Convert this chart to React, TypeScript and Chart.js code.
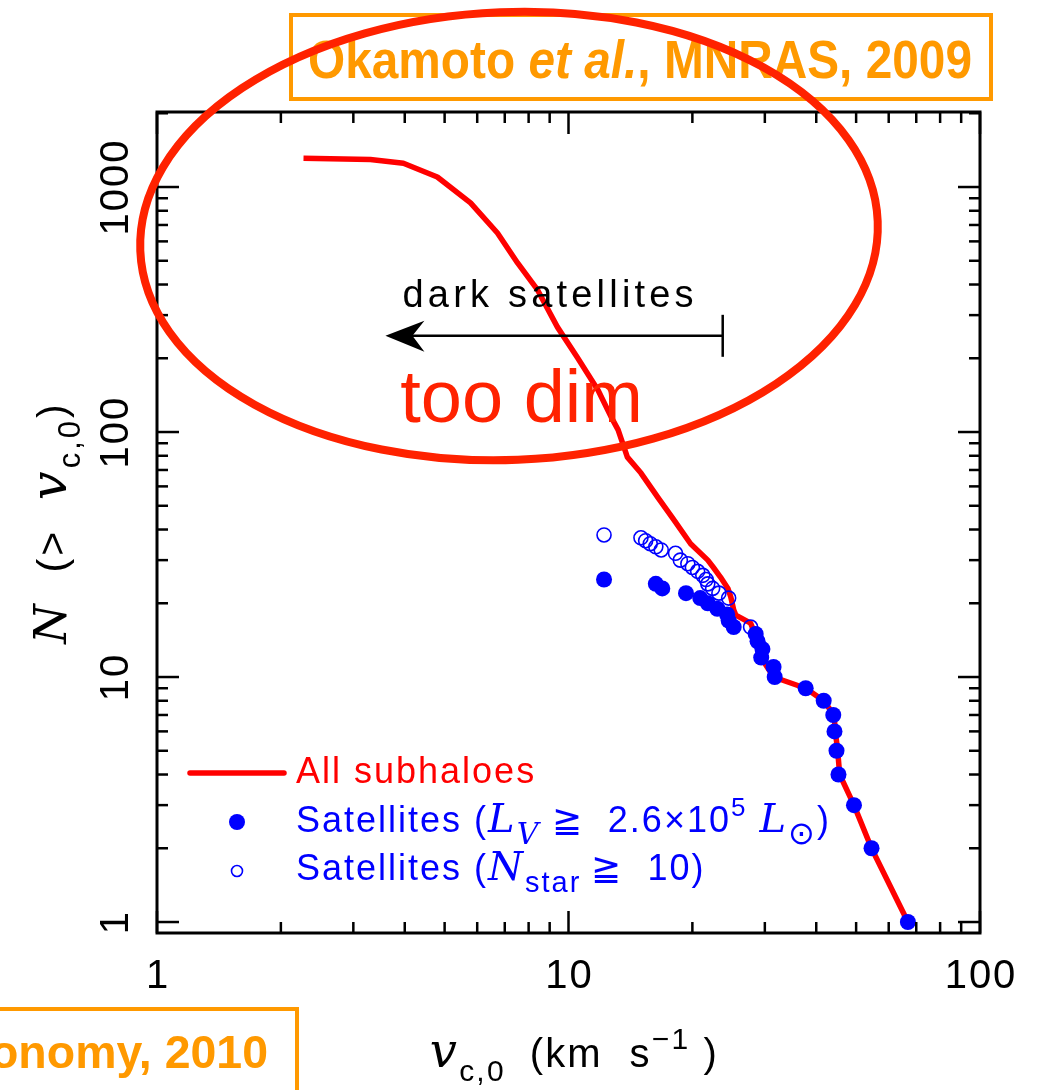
import React, { useEffect, useRef } from "react";
import { Chart, registerables } from "chart.js";
Chart.register(...registerables);

// ---- data ----
const subhaloVc = [2.27, 3.3, 3.97, 4.8, 5.78, 6.72, 7.52, 8.41, 9.4, 10.5, 11.8, 12.7, 13.2, 13.6, 13.9, 15.0, 16.5, 18.0, 19.8, 21.8, 22.5, 23.4, 24.4, 24.8, 25.2, 25.5, 27.7, 28.8, 29.3, 31.5, 37.7, 41.7, 44.2, 44.5, 45.1, 45.6, 49.4, 54.5, 66.8];
const subhaloN = [1310, 1295, 1250, 1099, 861, 649, 490, 380, 268, 202, 148, 115, 102, 88, 79, 68, 54, 44, 35, 30, 28, 25.6, 23, 21.2, 18.8, 17.9, 16.6, 14.2, 12.1, 10, 9, 8, 7, 6, 5, 4, 3, 2, 1];

const brightVc = [12.2, 16.3, 16.9, 19.3, 20.9, 21.8, 23.0, 24.3, 24.5, 25.2, 28.5, 28.8, 29.6, 29.4, 31.5, 31.7, 37.7, 41.7, 44.0, 44.3, 44.8, 45.3, 49.4, 54.5, 66.8];
const brightN = [25, 24, 23, 22, 21, 20, 19, 18, 17, 16, 15, 14, 13, 12, 11, 10, 9, 8, 7, 6, 5, 4, 3, 2, 1];

const starVc = [12.2, 15.0, 15.4, 15.8, 16.3, 16.8, 18.2, 18.7, 19.5, 20.0, 20.6, 21.2, 21.6, 21.8, 22.4, 23.2, 24.5, 27.7];
const starN = [38, 37, 36, 35, 34, 33, 32, 30, 29, 28, 27, 26, 25, 24, 23, 22, 21, 16];

const xMajorTicks = [1, 10, 100];
const xMinorTicks = [2, 3, 4, 5, 6, 7, 8, 9, 20, 30, 40, 50, 60, 70, 80, 90];
const yMajorTicks = [1, 10, 100, 1000];
const yMinorTicks = [2, 3, 4, 5, 6, 7, 8, 9, 20, 30, 40, 50, 60, 70, 80, 90, 200, 300, 400, 500, 600, 700, 800, 900, 2000];

// annotation anchors in data units
const darkArrowFrom = 23.7;
const darkArrowTo = 3.59;
const darkArrowN = 247;
const darkTextVc = 3.95;
const darkTextN = 324;
const tooDimVc = 3.9;
const tooDimN = 110;

const SANS = '"Liberation Sans", Arial, sans-serif';
const SERIF = '"DejaVu Serif", serif';

type Seg = { t: string; k?: "it" | "sub" | "sup" | "subit"; s?: number; sp?: number };

function segFont(s: Seg, size: number) {
  const m = s.s ?? 1;
  if (s.k === "it") return `italic ${Math.round(size * m)}px ${SERIF}`;
  if (s.k === "subit") return `italic ${Math.round(size * 0.72 * m)}px ${SERIF}`;
  if (s.k === "sub" || s.k === "sup") return `${Math.round(size * 0.72 * m)}px ${SANS}`;
  return `${Math.round(size * m)}px ${SANS}`;
}
function segDy(k: string | undefined, size: number) {
  if (k === "sub" || k === "subit") return size * 0.34;
  if (k === "sup") return -size * 0.45;
  return 0;
}
function drawRich(ctx: any, segs: Seg[], x: number, y: number, size: number, align: string, spacing: number) {
  const widths = segs.map((s) => {
    ctx.font = segFont(s, size);
    ctx.letterSpacing = (s.sp ?? spacing) + "px";
    return ctx.measureText(s.t).width;
  });
  const total = widths.reduce((a, b) => a + b, 0);
  let cx = align === "center" ? x - total / 2 : align === "right" ? x - total : x;
  ctx.textAlign = "left";
  ctx.textBaseline = "alphabetic";
  segs.forEach((s, i) => {
    ctx.font = segFont(s, size);
    ctx.letterSpacing = (s.sp ?? spacing) + "px";
    ctx.fillText(s.t, cx, y + segDy(s.k, size));
    cx += widths[i];
  });
  ctx.letterSpacing = "0px";
}

function drawBoldCite(ctx: any, parts: { t: string; it?: boolean }[], x: number, y: number, size: number, sx: number, align: string) {
  const widths = parts.map((p) => {
    ctx.font = `${p.it ? "italic " : ""}bold ${size}px ${SANS}`;
    return ctx.measureText(p.t).width;
  });
  const total = widths.reduce((a, b) => a + b, 0) * sx;
  const start = align === "right" ? x - total : x;
  ctx.save();
  ctx.translate(start, y);
  ctx.scale(sx, 1);
  let cx = 0;
  ctx.textAlign = "left";
  ctx.textBaseline = "alphabetic";
  parts.forEach((p, i) => {
    ctx.font = `${p.it ? "italic " : ""}bold ${size}px ${SANS}`;
    ctx.fillText(p.t, cx, 0);
    cx += widths[i];
  });
  ctx.restore();
}

const overlay = {
  id: "overlay",
  afterDraw(chart: any) {
    const { ctx, chartArea: a } = chart;
    const xs = chart.scales.x;
    const ys = chart.scales.y;
    ctx.save();
    ctx.strokeStyle = "#000";
    ctx.fillStyle = "#000";
    ctx.lineCap = "butt";
    const line = (x1: number, y1: number, x2: number, y2: number) => {
      ctx.beginPath();
      ctx.moveTo(x1, y1);
      ctx.lineTo(x2, y2);
      ctx.stroke();
    };
    // frame
    ctx.lineWidth = 3;
    ctx.strokeRect(a.left, a.top, a.right - a.left, a.bottom - a.top);
    // ticks
    ctx.lineWidth = 2.5;
    const xt = (v: number, len: number) => {
      const p = xs.getPixelForValue(v);
      line(p, a.bottom, p, a.bottom - len);
      line(p, a.top, p, a.top + len);
    };
    const yt = (v: number, len: number) => {
      const p = ys.getPixelForValue(v);
      line(a.left, p, a.left + len, p);
      line(a.right, p, a.right - len, p);
    };
    xMajorTicks.forEach((v) => xt(v, 22));
    xMinorTicks.forEach((v) => xt(v, 11));
    yMajorTicks.forEach((v) => yt(v, 22));
    yMinorTicks.forEach((v) => yt(v, 11));

    // tick labels
    ctx.fillStyle = "#000";
    ctx.font = `40px ${SANS}`;
    ctx.letterSpacing = "2px";
    ctx.textAlign = "center";
    ctx.textBaseline = "alphabetic";
    xMajorTicks.forEach((v) => {
      ctx.fillText(String(v), xs.getPixelForValue(v) + 1, a.bottom + 55);
    });
    yMajorTicks.forEach((v) => {
      ctx.save();
      ctx.translate(a.left - 29, ys.getPixelForValue(v));
      ctx.rotate(-Math.PI / 2);
      ctx.fillText(String(v), 0, 0);
      ctx.restore();
    });
    ctx.letterSpacing = "0px";

    // axis titles
    drawRich(
      ctx,
      [{ t: "v", k: "it", s: 1.2 }, { t: "c,0 ", k: "sub", s: 1.05 }, { t: " (km  s" }, { t: "−1", k: "sup", s: 1.05 }, { t: " )" }],
      (a.left + a.right) / 2 + 6,
      a.bottom + 134,
      40,
      "center",
      2.2
    );
    ctx.save();
    ctx.translate(a.left - 91, (a.top + a.bottom) / 2 + 0);
    ctx.rotate(-Math.PI / 2);
    drawRich(
      ctx,
      [{ t: "N", k: "it", s: 1.1 }, { t: "  (>  " }, { t: "v", k: "it", s: 1.25 }, { t: "c,0", k: "sub", s: 1.05 }, { t: ")" }],
      0,
      0,
      41,
      "center",
      3
    );
    ctx.restore();

    // legend
    const lx = a.left + 33;
    ctx.strokeStyle = "#ff0000";
    ctx.lineWidth = 5.5;
    ctx.lineCap = "round";
    line(lx, 773, lx + 94, 773);
    ctx.lineCap = "butt";
    ctx.fillStyle = "#ff0000";
    drawRich(ctx, [{ t: "All subhaloes" }], 296, 783, 36, "left", 2);
    ctx.fillStyle = "#0000ff";
    ctx.beginPath();
    ctx.arc(237, 822, 8, 0, Math.PI * 2);
    ctx.fill();
    drawRich(
      ctx,
      [
        { t: "Satellites (" },
        { t: "L", k: "it", s: 1.1 },
        { t: "V ", k: "subit", s: 1.15 },
        { t: "≧  2.6×10" },
        { t: "5", k: "sup" },
        { t: " " },
        { t: "L", k: "it", s: 1.1 },
        { t: "⊙", k: "sub", s: 1.25 },
        { t: ")" },
      ],
      296,
      832,
      36,
      "left",
      2
    );
    ctx.strokeStyle = "#0000ff";
    ctx.lineWidth = 1.6;
    ctx.beginPath();
    ctx.arc(237, 871, 5.5, 0, Math.PI * 2);
    ctx.stroke();
    drawRich(
      ctx,
      [{ t: "Satellites (" }, { t: "N", k: "it", s: 1.1 }, { t: "star ", k: "sub", s: 1.1 }, { t: "≧  10)" }],
      296,
      880,
      36,
      "left",
      2
    );

    // dark satellites arrow
    const ax1 = xs.getPixelForValue(darkArrowFrom);
    const ax2 = xs.getPixelForValue(darkArrowTo);
    const ay = ys.getPixelForValue(darkArrowN);
    ctx.strokeStyle = "#000";
    ctx.fillStyle = "#000";
    ctx.lineWidth = 2.5;
    line(ax1, ay, ax2 + 20, ay);
    line(ax1, ay - 21, ax1, ay + 21);
    ctx.beginPath();
    ctx.moveTo(ax2, ay);
    ctx.lineTo(ax2 + 39, ay - 15);
    ctx.lineTo(ax2 + 27, ay);
    ctx.lineTo(ax2 + 39, ay + 16);
    ctx.closePath();
    ctx.fill();
    drawRich(ctx, [{ t: "dark satellites" }], xs.getPixelForValue(darkTextVc), ys.getPixelForValue(darkTextN), 38, "left", 4.2);

    // too dim
    ctx.fillStyle = "#ff2200";
    ctx.font = `74px ${SANS}`;
    ctx.textAlign = "left";
    ctx.fillText("too dim", xs.getPixelForValue(tooDimVc), ys.getPixelForValue(tooDimN));

    // citation boxes
    ctx.strokeStyle = "#ff9900";
    ctx.fillStyle = "#ff9900";
    ctx.lineWidth = 4;
    ctx.strokeRect(291, 15, 700, 84);
    const parts = [{ t: "Okamoto " }, { t: "et al.", it: true }, { t: ", MNRAS, 2009" }];
    let w = 0;
    parts.forEach((p) => {
      ctx.font = `${p.it ? "italic " : ""}bold 53px ${SANS}`;
      w += ctx.measureText(p.t).width;
    });
    const sx = 664 / w;
    drawBoldCite(ctx, parts, 308, 78, 53, sx, "left");
    ctx.strokeRect(-10, 1009, 307, 100);
    drawBoldCite(ctx, [{ t: "Kravtsov, Advances in Astronomy, 2010" }], 268, 1068, 46, sx * 1.12, "right");

    // hand-drawn ellipse
    ctx.strokeStyle = "#ff2200";
    ctx.lineWidth = 8;
    ctx.beginPath();
    ctx.ellipse(509, 236, 369, 224, -0.04, 0, Math.PI * 2);
    ctx.stroke();
    ctx.restore();
  },
};

export default function App() {
  const ref = useRef<HTMLCanvasElement | null>(null);
  useEffect(() => {
    if (!ref.current) return;
    const chart = new Chart(ref.current, {
      type: "line",
      data: {
        datasets: [
          {
            label: "All subhaloes",
            data: subhaloVc.map((v, i) => ({ x: v, y: subhaloN[i] })),
            borderColor: "#ff0000",
            borderWidth: 5.5,
            borderJoinStyle: "round",
            pointRadius: 0,
            tension: 0,
            order: 3,
          },
          {
            label: "Satellites (N_star >= 10)",
            data: starVc.map((v, i) => ({ x: v, y: starN[i] })),
            showLine: false,
            pointRadius: 7,
            pointBorderWidth: 1.6,
            pointBorderColor: "#0000ff",
            pointBackgroundColor: "rgba(0,0,0,0)",
            borderColor: "#0000ff",
            backgroundColor: "rgba(0,0,0,0)",
            order: 2,
          },
          {
            label: "Satellites (L_V >= 2.6e5 Lsun)",
            data: brightVc.map((v, i) => ({ x: v, y: brightN[i] })),
            showLine: false,
            pointRadius: 8,
            pointBorderWidth: 0,
            pointBackgroundColor: "#0000ff",
            borderColor: "#0000ff",
            backgroundColor: "#0000ff",
            order: 1,
          },
        ],
      },
      options: {
        responsive: false,
        animation: false,
        layout: { padding: { left: 157, top: 112, right: 67, bottom: 157 } },
        plugins: { legend: { display: false }, tooltip: { enabled: false } },
        scales: {
          x: { type: "logarithmic", min: 1, max: 100, display: false },
          y: { type: "logarithmic", min: 0.902, max: 2024, display: false },
        },
      },
      plugins: [overlay],
    } as any);
    return () => chart.destroy();
  }, []);
  return (
    <div style={{ position: "fixed", left: 0, top: 0, width: 1047, height: 1090, background: "#fff" }}>
      <canvas ref={ref} width={1047} height={1090} style={{ display: "block" }} />
    </div>
  );
}
